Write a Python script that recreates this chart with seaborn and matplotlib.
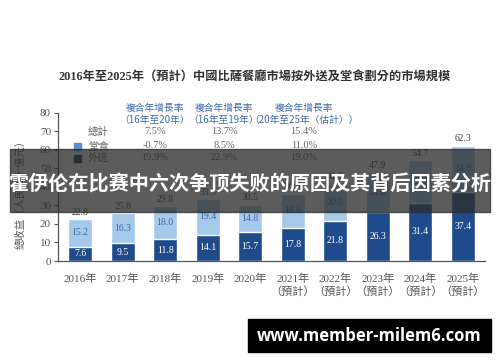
import matplotlib
matplotlib.use("Agg")
import matplotlib.pyplot as plt
import seaborn as sns
import pandas as pd
from matplotlib.patches import Rectangle

years = ["2016年", "2017年", "2018年", "2019年", "2020年",
         "2021年\n（預計）", "2022年\n（預計）", "2023年\n（預計）", "2024年\n（預計）", "2025年\n（預計）"]
delivery = [7.6, 9.5, 11.8, 14.1, 15.7, 17.8, 21.8, 26.3, 31.4, 37.4]
dine_in = [15.2, 16.3, 18.0, 19.4, 14.8, 18.6, 20.0, 21.6, 23.3, 24.9]
totals = [22.8, 25.8, 29.8, 33.5, 30.5, 36.4, 41.8, 47.9, 54.7, 62.3]

cagr_headers = ["複合年增長率\n（16年至20年）", "複合年增長率\n（16年至19年）", "複合年增長率\n（20年至25年（估計））"]
cagr_total = ["7.5%", "13.7%", "15.4%"]
cagr_dine = ["-0.7%", "8.5%", "11.0%"]
cagr_delivery = ["19.9%", "22.9%", "19.0%"]
legend_labels = ["總計", "堂食", "外送"]

title = "2016年至2025年（預計）中國比薩餐廳市場按外送及堂食劃分的市場規模"
ylabel = "總收益（人民幣十億元）"
banner = "霍伊伦在比赛中六次争顶失败的原因及其背后因素分析"
watermark = "www.member-milem6.com"

DARK = "#1f4b8c"
LIGHT = "#a6c8ea"
SERIF = ["Liberation Serif", "Noto Sans CJK TC"]
CJK = ["Noto Sans CJK TC", "DejaVu Sans"]

sns.set_theme(style="white")
plt.rcParams["font.family"] = SERIF

df = pd.DataFrame({"year": years, "delivery": delivery, "dine_in": dine_in})
df["total"] = df["delivery"] + df["dine_in"]

fig = plt.figure(figsize=(5, 3.62), dpi=100)
ax = fig.add_axes([0.116, 0.279, 0.854, 0.409])

sns.barplot(data=df, x="year", y="total", color=LIGHT, width=0.56, ax=ax,
            saturation=1, errorbar=None)
sns.barplot(data=df, x="year", y="delivery", color=DARK, width=0.56, ax=ax,
            saturation=1, errorbar=None)

ax.set_xlim(-0.52, 9.52)
ax.set_ylim(0, 80)
ax.set_yticks(range(0, 81, 10))
ax.set_xlabel("")
ax.set_ylabel("")
for s in ["top", "right"]:
    ax.spines[s].set_visible(False)
for s in ["left", "bottom"]:
    ax.spines[s].set_color("#555555")
    ax.spines[s].set_linewidth(0.9)
ax.tick_params(axis="y", left=True, length=3, width=0.8, color="#555555",
               labelsize=8, labelcolor="#555555", pad=2)
ax.tick_params(axis="x", bottom=False, labelsize=8, labelcolor="#555555", pad=3)
for lab in ax.get_xticklabels():
    lab.set_fontfamily(SERIF)
    lab.set_linespacing(1.3)

for i, (d, w, t) in enumerate(zip(delivery, dine_in, totals)):
    ax.text(i, d / 2, f"{d:.1f}", ha="center", va="center", color="white", fontsize=7)
    ax.text(i, d + w / 2, f"{w:.1f}", ha="center", va="center", color="#3a6aa8", fontsize=7)
    ax.text(i, d + w + 1.2, f"{t:.1f}", ha="center", va="bottom", color="#444444", fontsize=7)

# title
fig.text(0.51, 1 - 78 / 362, title, ha="center", va="center", fontsize=8.8,
         fontweight="bold", color="#333333")
# y label
fig.text(0.04, 1 - 192 / 362, ylabel, ha="center", va="center", rotation=90,
         fontsize=7.5, color="#555555")

# legend-like rows
rows_y = [132, 146, 158]
fig.text(88 / 500, 1 - rows_y[0] / 362, legend_labels[0], ha="left", va="center",
         fontsize=7.5, color="#666666", family=CJK)
for ry, lab, col in [(rows_y[1], legend_labels[1], "#5b8fd0"), (rows_y[2], legend_labels[2], "#15294f")]:
    fig.patches.append(Rectangle((74 / 500, 1 - (ry + 3.5) / 362), 7 / 500, 7 / 362,
                                 transform=fig.transFigure, color=col, figure=fig))
    fig.text(88 / 500, 1 - ry / 362, lab, ha="left", va="center",
             fontsize=7.5, color="#666666", family=CJK)

col_x = [155, 224, 304]
for cx, head, a, b, c in zip(col_x, cagr_headers, cagr_total, cagr_dine, cagr_delivery):
    fig.text(cx / 500, 1 - 114 / 362, head, ha="center", va="center", fontsize=7,
             color="#3b68ad", family=CJK, linespacing=1.3)
    for ry, v in zip(rows_y, [a, b, c]):
        fig.text(cx / 500, 1 - ry / 362, v, ha="center", va="center", fontsize=7.5,
                 color="#666666")

# overlay banner
fig.patches.append(Rectangle((10 / 500, 1 - 212 / 362), 480 / 500, 63 / 362,
                             transform=fig.transFigure, color="#2e2e2e", alpha=0.78,
                             figure=fig, zorder=10))
fig.text(0.5, 1 - 184 / 362, banner, ha="center", va="center", fontsize=14.5,
         fontweight="bold", color="white", family=["Noto Sans CJK SC", "DejaVu Sans"],
         zorder=11)

# watermark
fig.patches.append(Rectangle((248 / 500, 1 - 352 / 362), 243 / 500, 33 / 362,
                             transform=fig.transFigure, color="black", figure=fig, zorder=10))
fig.text(369 / 500, 1 - 336 / 362, watermark, ha="center", va="center", fontsize=12,
         fontweight="bold", color="white", family=["Open Sans", "DejaVu Sans"], zorder=11)

fig.savefig("out.png", dpi=100)
